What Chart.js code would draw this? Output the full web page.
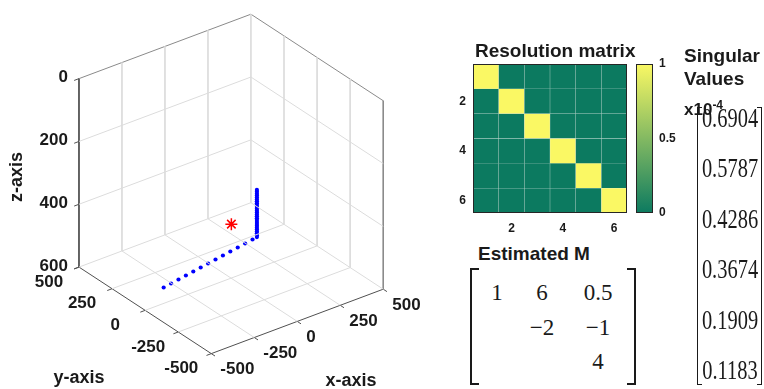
<!DOCTYPE html>
<html>
<head>
<meta charset="utf-8">
<script src="https://cdn.jsdelivr.net/npm/chart.js@4.4.1/dist/chart.umd.min.js"></script>
<style>
  body { margin: 0; background: #fff; }
  #page { position: relative; width: 764px; height: 389px; overflow: hidden; background: #fff; }
  canvas { position: absolute; }
  .title { position: absolute; font: bold 19px "Liberation Sans", Arial, sans-serif; color: #1a1a1a; white-space: nowrap; line-height: 19px; }
  .cell { position: absolute; font: 23px "Liberation Serif", "Times New Roman", serif; color: #1a1a1a; line-height: 23px; transform: translate(-50%, -50%); white-space: nowrap; }
  .sv { position: absolute; font: 28px "Liberation Serif", "Times New Roman", serif; color: #1a1a1a; line-height: 28px; transform: translate(-50%, -50%) scaleX(0.73); white-space: nowrap; }
  .brk { position: absolute; border: 2px solid #1a1a1a; box-sizing: border-box; }
</style>
</head>
<body>
<div id="page">
  <canvas id="view3d" width="440" height="389" style="left:0;top:0"></canvas>
  <canvas id="resMat" width="200" height="200" style="left:440px;top:40px"></canvas>
  <canvas id="colorBar" width="60" height="200" style="left:630px;top:40px"></canvas>
  <div class="title" style="left:475px;top:41px">Resolution matrix</div>
  <div class="title" style="left:478px;top:244px">Estimated M</div>
  <div class="title" style="left:684px;top:46px">Singular</div>
  <div class="title" style="left:684px;top:69px">Values</div>
  <div class="title" style="left:684px;top:96px;font-size:17px">x10<sup style="font-size:12px;vertical-align:6px">-4</sup></div>
  <div id="mPanel"></div>
  <div id="svPanel"></div>
</div>
<script>
// 3D axes ticks
const xTicks = [-500, -250, 0, 250, 500];
const yTicks = [-500, -250, 0, 250, 500];
const zTicks = [0, 200, 400, 600];

// horizontal receiver line (z = 500)
const lineX = [-480, -430, -380, -330, -280, -230, -180, -130, -80, -30, 20, 70, 120];
const lineY = [-114, -105, -96, -87, -78, -69, -60, -51, -42, -33, -24, -15, -6];
const lineZ = [500, 500, 500, 500, 500, 500, 500, 500, 500, 500, 500, 500, 500];

// vertical well receivers at x = 150, y = 0
const wellX = 150;
const wellY = 0;
const wellZ = [350, 356, 362, 368, 374, 380, 386, 392, 398, 404, 410, 416, 422, 428,
               434, 440, 446, 452, 458, 464, 470, 476, 482, 488, 494, 500];

// source
const srcX = [40];
const srcY = [50];
const srcZ = [450];

// resolution matrix (6 x 6)
const resolution = [
  [1, 0, 0, 0, 0, 0],
  [0, 1, 0, 0, 0, 0],
  [0, 0, 1, 0, 0, 0],
  [0, 0, 0, 1, 0, 0],
  [0, 0, 0, 0, 1, 0],
  [0, 0, 0, 0, 0, 1]
];
const resLabels = ['1', '2', '3', '4', '5', '6'];
const resTicks = [2, 4, 6];
const barTicks = [0, 0.5, 1];

// estimated moment tensor (upper triangle)
const estM = [
  [1, 6, 0.5],
  [null, -2, -1],
  [null, null, 4]
];

// singular values x 1e-4
const singularValues = [0.6904, 0.5787, 0.4286, 0.3674, 0.1909, 0.1183];

// ---- projection of the 3D box (orthographic view) ----
const view = { ux: 0.178, uy: -0.137, vx: 0.067, vy: 0.090, vz: 0.3267 };
function proj(x, y, z) {
  return { x: view.ux * x + view.uy * y, y: view.vx * x + view.vy * y + view.vz * (600 - z) };
}

function segments(list) {
  const out = [];
  list.forEach(([a, b]) => {
    const p = proj(...a), q = proj(...b);
    out.push(p, q, { x: q.x, y: null });
  });
  return out;
}

const xMin = xTicks[0], xMax = xTicks[xTicks.length - 1];
const yMin = yTicks[0], yMax = yTicks[yTicks.length - 1];
const zTop = zTicks[0], zBot = zTicks[zTicks.length - 1];

const gridSegs = [];
xTicks.slice(1, -1).forEach(x => {
  gridSegs.push([[x, yMin, zBot], [x, yMax, zBot]]);      // floor
  gridSegs.push([[x, yMax, zTop], [x, yMax, zBot]]);      // left wall
});
yTicks.slice(1, -1).forEach(y => {
  gridSegs.push([[xMin, y, zBot], [xMax, y, zBot]]);      // floor
  gridSegs.push([[xMax, y, zTop], [xMax, y, zBot]]);      // right wall
});
zTicks.slice(1, -1).forEach(z => {
  gridSegs.push([[xMin, yMax, z], [xMax, yMax, z]]);
  gridSegs.push([[xMax, yMax, z], [xMax, yMin, z]]);
});
gridSegs.push([[xMin, yMax, zBot], [xMax, yMax, zBot]]);
gridSegs.push([[xMax, yMax, zBot], [xMax, yMin, zBot]]);
gridSegs.push([[xMax, yMax, zTop], [xMax, yMax, zBot]]);

const boxSegs = [
  [[xMin, yMax, zTop], [xMax, yMax, zTop]],
  [[xMax, yMax, zTop], [xMax, yMin, zTop]],
  [[xMax, yMin, zTop], [xMax, yMin, zBot]]
];

const tl = 28;
const axisSegs = [
  [[xMin, yMax, zTop], [xMin, yMax, zBot]],
  [[xMin, yMin, zBot], [xMin, yMax, zBot]],
  [[xMin, yMin, zBot], [xMax, yMin, zBot]]
];
xTicks.forEach(x => axisSegs.push([[x, yMin, zBot], [x, yMin - tl, zBot]]));
yTicks.forEach(y => axisSegs.push([[xMin, y, zBot], [xMin - tl, y, zBot]]));
zTicks.forEach(z => axisSegs.push([[xMin, yMax, z], [xMin - tl, yMax, z]]));

const linePts = lineX.map((x, i) => proj(x, lineY[i], lineZ[i]));
const wellPts = wellZ.map(z => proj(wellX, wellY, z));
const srcPts = srcX.map((x, i) => proj(x, srcY[i], srcZ[i]));

const tickFont = 'bold 17px "Liberation Sans", Arial, sans-serif';
const labelPlugin = {
  id: 'labels3d',
  afterDatasetsDraw(chart) {
    const { ctx, scales } = chart;
    const px = p => [scales.x.getPixelForValue(p.x), scales.y.getPixelForValue(p.y)];
    ctx.save();
    ctx.fillStyle = '#1a1a1a';
    ctx.font = tickFont;
    ctx.textBaseline = 'middle';
    ctx.textAlign = 'right';
    zTicks.forEach(z => {
      const [a, b] = px(proj(xMin, yMax, z));
      ctx.fillText(String(z), a - 11, b - 1);
    });
    ctx.textAlign = 'center';
    yTicks.forEach(y => {
      const [a, b] = px(proj(xMin, y, zBot));
      ctx.fillText(String(y), a - 30, b + 15);
    });
    ctx.textAlign = 'left';
    xTicks.forEach(x => {
      const [a, b] = px(proj(x, yMin, zBot));
      ctx.fillText(String(x), a + 9, b + 16);
    });
    ctx.font = 'bold 18px "Liberation Sans", Arial, sans-serif';
    ctx.textAlign = 'center';
    ctx.fillText('y-axis', 79, 378);
    ctx.fillText('x-axis', 351, 381);
    ctx.translate(17, 177);
    ctx.rotate(-Math.PI / 2);
    ctx.fillText('z-axis', 0, 0);
    ctx.restore();
  }
};

function lineSet(data, color) {
  return { data, showLine: true, borderColor: color, borderWidth: 1, pointRadius: 0, spanGaps: false, fill: false };
}

new Chart(document.getElementById('view3d'), {
  type: 'scatter',
  data: {
    datasets: [
      lineSet(segments(gridSegs), '#dcdcdc'),
      lineSet(segments(boxSegs), '#8a8a8a'),
      lineSet(segments(axisSegs), '#505050'),
      { data: linePts, pointRadius: 2.1, pointBackgroundColor: '#0000ff', pointBorderWidth: 0 },
      { data: wellPts, pointRadius: 2.1, pointBackgroundColor: '#0000ff', pointBorderWidth: 0 },
      { data: srcPts, pointStyle: 'star', pointRadius: 6, pointBorderColor: '#ff0000', pointBorderWidth: 1.5 }
    ]
  },
  options: {
    responsive: false,
    animation: false,
    events: [],
    layout: { padding: 0 },
    plugins: { legend: { display: false }, tooltip: { enabled: false } },
    scales: {
      x: { display: false, min: -231.5, max: 208.5 },
      y: { display: false, min: -107.5, max: 281.5 }
    }
  },
  plugins: [labelPlugin]
});

// ---- resolution matrix heat map ----
const cmapLow = [12, 122, 96];
const cmapHigh = [250, 248, 100];
function summer(v) {
  const c = cmapLow.map((lo, k) => Math.round(lo + (cmapHigh[k] - lo) * v));
  return `rgb(${c[0]},${c[1]},${c[2]})`;
}
const frame = {
  id: 'frame',
  afterDraw(chart) {
    const { ctx, chartArea: a } = chart;
    ctx.save();
    ctx.strokeStyle = '#262626';
    ctx.lineWidth = 1;
    ctx.strokeRect(a.left + 0.5, a.top + 0.5, a.right - a.left - 1, a.bottom - a.top - 1);
    ctx.restore();
  }
};
const smallFont = { family: '"Liberation Sans", Arial, sans-serif', size: 12, weight: 'bold' };

new Chart(document.getElementById('resMat'), {
  type: 'bar',
  data: {
    labels: resLabels,
    datasets: resolution.map((row, r) => ({
      data: row.map(() => [r + 0.5, r + 1.5]),
      backgroundColor: row.map(v => summer(v)),
      grouped: false,
      barPercentage: 1,
      categoryPercentage: 1,
      borderWidth: 0.5,
      borderColor: 'rgba(0,70,50,0.12)'
    }))
  },
  options: {
    responsive: false,
    animation: false,
    events: [],
    layout: { padding: { left: 0, top: 24, right: 13, bottom: 0 } },
    plugins: { legend: { display: false }, tooltip: { enabled: false } },
    scales: {
      x: {
        grid: { display: false, drawTicks: false },
        border: { display: false },
        ticks: {
          autoSkip: false, maxRotation: 0, padding: 8, color: '#1a1a1a', font: smallFont,
          callback: (v, i) => resTicks.includes(Number(resLabels[i])) ? resLabels[i] : ''
        },
        afterFit: s => { s.height = 27; }
      },
      y: {
        min: 0.5, max: 6.5, reverse: true,
        grid: { display: false, drawTicks: false },
        border: { display: false },
        afterBuildTicks: s => { s.ticks = resTicks.map(v => ({ value: v })); },
        ticks: { padding: 7, color: '#1a1a1a', font: smallFont },
        afterFit: s => { s.width = 33; }
      }
    }
  },
  plugins: [frame]
});

// ---- colour bar ----
new Chart(document.getElementById('colorBar'), {
  type: 'bar',
  data: {
    labels: [''],
    datasets: [{
      data: [[barTicks[0], barTicks[barTicks.length - 1]]],
      barPercentage: 1,
      categoryPercentage: 1,
      borderWidth: 0,
      backgroundColor: ctx => {
        const a = ctx.chart.chartArea;
        if (!a) return summer(0);
        const g = ctx.chart.ctx.createLinearGradient(0, a.bottom, 0, a.top);
        [0, 0.25, 0.5, 0.75, 1].forEach(s => g.addColorStop(s, summer(s)));
        return g;
      }
    }]
  },
  options: {
    responsive: false,
    animation: false,
    events: [],
    layout: { padding: { left: 6, top: 24, right: 0, bottom: 27 } },
    plugins: { legend: { display: false }, tooltip: { enabled: false } },
    scales: {
      x: { display: false },
      y: {
        position: 'right', min: 0, max: 1,
        grid: { display: false, drawTicks: false },
        border: { display: false },
        afterBuildTicks: s => { s.ticks = barTicks.map(v => ({ value: v })); },
        ticks: { padding: 6, color: '#1a1a1a', font: smallFont, callback: v => String(v) },
        afterFit: s => { s.width = 37; }
      }
    }
  },
  plugins: [frame]
});

// ---- estimated M panel ----
const mPanel = document.getElementById('mPanel');
const mCols = [497, 542, 598];
const mRows = [292, 327, 361];
mPanel.innerHTML =
  '<div class="brk" style="left:470px;top:268px;width:9px;height:117px;border-right:none"></div>' +
  '<div class="brk" style="left:627px;top:268px;width:9px;height:117px;border-left:none"></div>';
estM.forEach((row, r) => row.forEach((v, c) => {
  if (v === null) return;
  const d = document.createElement('div');
  d.className = 'cell';
  d.style.left = mCols[c] + 'px';
  d.style.top = mRows[r] + 'px';
  d.textContent = v < 0 ? '\u2212' + Math.abs(v) : String(v);
  mPanel.appendChild(d);
}));

// ---- singular values panel ----
const svPanel = document.getElementById('svPanel');
svPanel.innerHTML =
  '<div class="brk" style="left:697px;top:107px;width:5px;height:278px;border-right:none;border-width:1.5px"></div>' +
  '<div class="brk" style="left:757px;top:107px;width:5px;height:278px;border-left:none;border-width:1.5px"></div>';
singularValues.forEach((v, i) => {
  const d = document.createElement('div');
  d.className = 'sv';
  d.style.left = '730px';
  d.style.top = (118 + i * 50.4) + 'px';
  d.textContent = v.toFixed(4);
  svPanel.appendChild(d);
});
</script>
</body>
</html>
